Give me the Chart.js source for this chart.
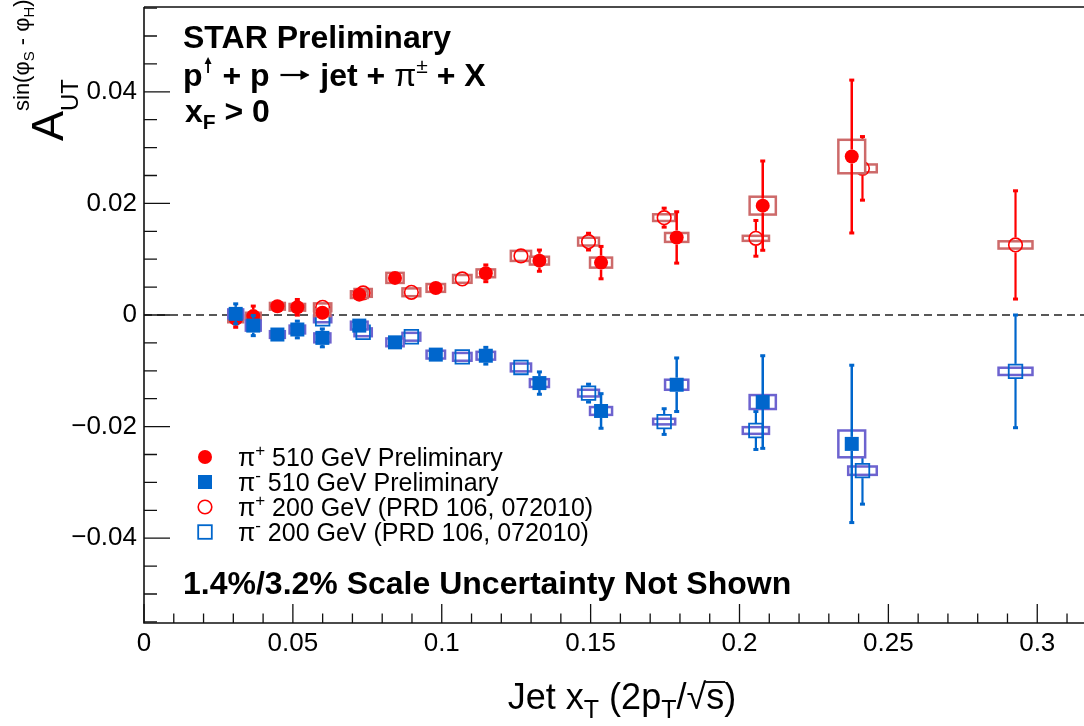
<!DOCTYPE html>
<html><head><meta charset="utf-8">
<script src="https://cdn.jsdelivr.net/npm/chart.js@4"></script>
<style>html,body{margin:0;padding:0;background:#fff;overflow:hidden;} canvas{display:block;}</style>
</head><body><canvas id="c" width="1084" height="726" style="width:1084px;height:726px"></canvas>
<script>
// ---------------- data ----------------
const x510 = [0.0308,0.0367,0.0448,0.0515,0.0599,0.0723,0.0843,0.0980,0.1148,0.1328,0.1535,0.1789,0.2078,0.2377];
const yPiPlus510 = [-0.0007,-0.0002,0.00156,0.00138,0.0004,0.00365,0.00665,0.00485,0.00747,0.00974,0.00939,0.0139,0.0196,0.0284];
const statPiPlus510 = [0.0015,0.0018,0.0010,0.0014,0.0012,0.0010,0.0010,0.0010,0.0015,0.0019,0.0029,0.0046,0.0080,0.0137];
const sysPiPlus510 = [0.0006,0.0006,0.0006,0.0006,0.0006,0.0006,0.0009,0.0007,0.0007,0.0007,0.0009,0.0008,0.0016,0.0030];
const yPiMinus510 = [0.0002,-0.0019,-0.0035,-0.0026,-0.0041,-0.0019,-0.0049,-0.0071,-0.0073,-0.0122,-0.0172,-0.0125,-0.0156,-0.0231];
const statPiMinus510 = [0.0018,0.0018,0.0010,0.0015,0.0016,0.0010,0.0010,0.0010,0.0015,0.0020,0.0031,0.0048,0.0083,0.0141];
const sysPiMinus510 = [0.0008,0.0009,0.0006,0.0007,0.0008,0.0007,0.0007,0.0007,0.0007,0.0007,0.0007,0.0009,0.00125,0.0024];
const sysX510 = [0.0025,0.0025,0.0025,0.0026,0.0027,0.0028,0.0029,0.0031,0.0031,0.0032,0.0037,0.0039,0.0044,0.0045];

const x200 = [0.0600,0.0736,0.0898,0.1069,0.1266,0.1493,0.1747,0.2055,0.2413,0.2927];
const yPiPlus200 = [0.00138,0.00396,0.00407,0.00647,0.01059,0.01315,0.01745,0.01374,0.02628,0.01256];
const statPiPlus200 = [0.0008,0.0008,0.0008,0.0008,0.0009,0.0015,0.0017,0.0032,0.0057,0.0097];
const sysPiPlus200 = [0.0007,0.0007,0.0007,0.0007,0.0009,0.0007,0.0006,0.00045,0.0007,0.00065];
const yPiMinus200 = [-0.0007,-0.0031,-0.0039,-0.0075,-0.0094,-0.0140,-0.0191,-0.0207,-0.0279,-0.0101];
const statPiMinus200 = [0.0008,0.0008,0.0008,0.0008,0.0009,0.0016,0.0023,0.0034,0.0060,0.0101];
const sysPiMinus200 = [0.0006,0.0007,0.0007,0.0007,0.0007,0.0006,0.0005,0.0006,0.00075,0.00065];
const sysX200 = [0.0029,0.0029,0.0030,0.0031,0.0034,0.0035,0.0037,0.0044,0.0048,0.0057];

const xTickValues = [0,0.05,0.1,0.15,0.2,0.25,0.3];
const xTickLabels = ["0","0.05","0.1","0.15","0.2","0.25","0.3"];
const yTickValues = [-0.04,-0.02,0,0.02,0.04];
const yTickLabels = ["\u22120.04","\u22120.02","0","0.02","0.04"];

const legendLabels = [
  {sym:"\u03c0", sup:"+", rest:" 510 GeV Preliminary"},
  {sym:"\u03c0", sup:"-", rest:" 510 GeV Preliminary"},
  {sym:"\u03c0", sup:"+", rest:" 200 GeV (PRD 106, 072010)"},
  {sym:"\u03c0", sup:"-", rest:" 200 GeV (PRD 106, 072010)"}
];

// ---------------- styles ----------------
const FF = '"Liberation Sans", Arial, Helvetica, sans-serif';
const RED = '#ff0000', BLUE = '#0066cc', RBOX = '#cd6a6a', BBOX = '#6d63cf';
const series = [
  {xs:x510, ys:yPiPlus510, stat:statPiPlus510, sysY:sysPiPlus510, sysX:sysX510, marker:'circle', filled:true, color:RED, box:RBOX, boxFill:'#ffffff', lw:2.5, half:7},
  {xs:x510, ys:yPiMinus510, stat:statPiMinus510, sysY:sysPiMinus510, sysX:sysX510, marker:'rect', filled:true, color:BLUE, box:BBOX, boxFill:'#ffffff', lw:2.5, half:7},
  {xs:x200, ys:yPiPlus200, stat:statPiPlus200, sysY:sysPiPlus200, sysX:sysX200, marker:'circle', filled:false, color:RED, box:RBOX, boxFill:null, lw:2.2, half:7.5},
  {xs:x200, ys:yPiMinus200, stat:statPiMinus200, sysY:sysPiMinus200, sysX:sysX200, marker:'rect', filled:false, color:BLUE, box:BBOX, boxFill:null, lw:2.2, half:7.5}
];
const drawOrder = [2,1,4,3];

const datasets = series.map((s,k)=>({
  label: legendLabels[k].rest,
  data: s.xs.map((x,i)=>({x:x, y:s.ys[i]})),
  showLine:false,
  order: drawOrder[k],
  pointStyle: s.marker,
  pointRadius: s.marker==='circle' ? (s.filled?7:6.8) : (s.filled?9.9:9.6),
  pointBackgroundColor: s.filled ? s.color : 'rgba(0,0,0,0)',
  pointBorderColor: s.color,
  pointBorderWidth: s.filled ? 0 : (s.marker==='circle'?1.6:1.8),
  pointHoverRadius: 0
}));

function drawExtras(chart, s){
  const ctx = chart.ctx, xs = chart.scales.x, ys = chart.scales.y;
  ctx.save();
  ctx.lineWidth = 2.5; ctx.strokeStyle = s.box;
  s.xs.forEach((x,i)=>{
    const l = xs.getPixelForValue(x - s.sysX[i]), r = xs.getPixelForValue(x + s.sysX[i]);
    const t = ys.getPixelForValue(s.ys[i] + s.sysY[i]), b = ys.getPixelForValue(s.ys[i] - s.sysY[i]);
    if (s.boxFill){ ctx.fillStyle = s.boxFill; ctx.fillRect(l,t,r-l,b-t); }
    ctx.strokeRect(l,t,r-l,b-t);
  });
  ctx.strokeStyle = s.color; ctx.fillStyle = s.color; ctx.lineWidth = s.lw;
  s.xs.forEach((x,i)=>{
    const px = xs.getPixelForValue(x), py = ys.getPixelForValue(s.ys[i]);
    const top = ys.getPixelForValue(s.ys[i] + s.stat[i]), bot = ys.getPixelForValue(s.ys[i] - s.stat[i]);
    if (py - top > s.half){
      ctx.beginPath(); ctx.moveTo(px, py - s.half); ctx.lineTo(px, top); ctx.stroke();
      ctx.fillRect(px-2.5, top-1.5, 5, 3);
    }
    if (bot - py > s.half){
      ctx.beginPath(); ctx.moveTo(px, py + s.half); ctx.lineTo(px, bot); ctx.stroke();
      ctx.fillRect(px-2.5, bot-1.5, 5, 3);
    }
  });
  ctx.restore();
}

function segWidth(ctx, sg){
  if (sg.arrow) return sg.arrow;
  if (sg.up) return sg.up;
  ctx.font = sg.font; return ctx.measureText(sg.t).width;
}
function richText(ctx, x, y, segs){
  let cx = x;
  segs.forEach(sg=>{
    if (sg.arrow){
      const ay = y + sg.dy;
      ctx.save(); ctx.strokeStyle = '#000'; ctx.lineWidth = 2.2;
      ctx.beginPath(); ctx.moveTo(cx+2, ay); ctx.lineTo(cx+sg.arrow-3, ay); ctx.stroke();
      ctx.beginPath(); ctx.moveTo(cx+sg.arrow-2, ay); ctx.lineTo(cx+sg.arrow-11, ay-5); ctx.lineTo(cx+sg.arrow-11, ay+5); ctx.closePath(); ctx.fillStyle='#000'; ctx.fill();
      ctx.restore();
      cx += sg.arrow; return;
    }
    if (sg.up){
      const mx = cx + sg.up/2;
      ctx.save(); ctx.strokeStyle = '#000'; ctx.lineWidth = 1.8;
      ctx.beginPath(); ctx.moveTo(mx, y + sg.y0); ctx.lineTo(mx, y + sg.y1 + 4); ctx.stroke();
      ctx.beginPath(); ctx.moveTo(mx, y + sg.y1); ctx.lineTo(mx-3.5, y + sg.y1 + 7); ctx.lineTo(mx+3.5, y + sg.y1 + 7); ctx.closePath(); ctx.fillStyle='#000'; ctx.fill();
      ctx.restore();
      cx += sg.up; return;
    }
    ctx.font = sg.font;
    ctx.fillText(sg.t, cx, y + (sg.dy||0));
    const w = ctx.measureText(sg.t).width;
    if (sg.over){ ctx.save(); ctx.lineWidth=1.8; ctx.strokeStyle='#000'; ctx.beginPath(); ctx.moveTo(cx-1, y+sg.over); ctx.lineTo(cx+w+1, y+sg.over); ctx.stroke(); ctx.restore(); }
    cx += w;
  });
  return cx;
}

function drawMarker(ctx, s, x, y){
  ctx.save();
  if (s.marker==='circle'){
    ctx.beginPath(); ctx.arc(x,y,s.filled?7:6.8,0,Math.PI*2);
    if (s.filled){ ctx.fillStyle=s.color; ctx.fill(); } else { ctx.strokeStyle=s.color; ctx.lineWidth=1.6; ctx.stroke(); }
  } else {
    if (s.filled){ ctx.fillStyle=s.color; ctx.fillRect(x-7,y-7,14,14); }
    else { ctx.strokeStyle=s.color; ctx.lineWidth=1.8; ctx.strokeRect(x-6.8,y-6.8,13.6,13.6); }
  }
  ctx.restore();
}

const rootPlugin = {
  id:'rootStyle',
  beforeDatasetsDraw(chart){
    const ctx = chart.ctx, a = chart.chartArea, ys = chart.scales.y;
    const y0 = ys.getPixelForValue(0);
    ctx.save(); ctx.strokeStyle='#222'; ctx.lineWidth=1.6; ctx.setLineDash([8,5]);
    ctx.beginPath(); ctx.moveTo(a.left, y0); ctx.lineTo(a.right, y0); ctx.stroke(); ctx.restore();
  },
  beforeDatasetDraw(chart, args){
    drawExtras(chart, series[args.index]);
  },
  afterDatasetsDraw(chart){
    const ctx = chart.ctx, a = chart.chartArea, xs = chart.scales.x, ys = chart.scales.y;
    ctx.save(); ctx.strokeStyle='#111'; ctx.lineWidth=1.6;
    ctx.beginPath();
    ctx.moveTo(a.left, a.top); ctx.lineTo(a.left, a.bottom); ctx.lineTo(a.right, a.bottom);
    ctx.moveTo(a.left, a.top); ctx.lineTo(a.right, a.top);
    ctx.stroke();
    ctx.lineWidth=1.3;
    ctx.beginPath();
    for (let k=0; k<=32; k++){
      const v = k*0.01; const px = xs.getPixelForValue(v);
      if (px > a.right) break;
      const len = (k%5===0) ? 19 : 9.5;
      ctx.moveTo(px, a.bottom); ctx.lineTo(px, a.bottom - len);
    }
    for (let k=-11; k<=11; k++){
      const v = k*0.005; const py = ys.getPixelForValue(v);
      if (py < a.top || py > a.bottom) continue;
      const len = (k%4===0) ? 26 : 13;
      ctx.moveTo(a.left, py); ctx.lineTo(a.left + len, py);
    }
    ctx.stroke();
    ctx.restore();
  },
  afterDraw(chart){
    const ctx = chart.ctx;
    ctx.save();
    ctx.fillStyle = '#000'; ctx.textBaseline = 'alphabetic'; ctx.textAlign='left';
    const B = 'bold 32px '+FF, Bs = 'bold 21px '+FF, R32 = '32px '+FF;
    richText(ctx, 183, 48, [{t:'STAR Preliminary', font:B}]);
    richText(ctx, 183, 86, [
      {t:'p', font:B}, {up:11, y0:-13, y1:-29}, {t:' + p ', font:B},
      {arrow:33, dy:-11}, {t:' jet + ', font:B}, {t:'\u03c0', font:R32},
      {t:'\u00b1', font:'21px '+FF, dy:-13}, {t:' + X', font:B}
    ]);
    richText(ctx, 185, 122, [{t:'x', font:B}, {t:'F', font:Bs, dy:7}, {t:' > 0', font:B}]);
    // legend
    const rows = [457, 482, 507, 532];
    series.forEach((s,k)=>{
      drawMarker(ctx, s, 205, rows[k]);
      ctx.fillStyle='#000';
      richText(ctx, 238, rows[k]+9, [
        {t:legendLabels[k].sym, font:'25px '+FF}, {t:legendLabels[k].sup, font:'17px '+FF, dy:-10}, {t:legendLabels[k].rest, font:'25px '+FF}
      ]);
    });
    ctx.fillStyle='#000';
    richText(ctx, 183, 594, [{t:'1.4%/3.2% Scale Uncertainty Not Shown', font:B}]);
    // x title
    const R36 = '36px '+FF, S25 = '25px '+FF;
    const xt = [
      {t:'Jet x', font:R36}, {t:'T', font:S25, dy:9}, {t:' (2p', font:R36},
      {t:'T', font:S25, dy:9}, {t:'/\u221a', font:R36}, {t:'s', font:R36, over:-27}, {t:')', font:R36}
    ];
    const tw = xt.reduce((acc,sg)=>acc+segWidth(ctx,sg),0);
    richText(ctx, 622 - tw/2, 709, xt);
    // y title (rotated)
    ctx.save();
    ctx.translate(63, 141); ctx.rotate(-Math.PI/2);
    richText(ctx, 0, 0, [{t:'A', font:'45px '+FF}]);
    richText(ctx, 30, 15, [{t:'UT', font:'24px '+FF}]);
    richText(ctx, 30, -34, [
      {t:'sin(\u03c6', font:'22px '+FF}, {t:'S', font:'15px '+FF, dy:5},
      {t:' - \u03c6', font:'22px '+FF}, {t:'H', font:'15px '+FF, dy:5}, {t:')', font:'22px '+FF}
    ]);
    ctx.restore();
    ctx.restore();
  }
};

new Chart(document.getElementById('c'), {
  type:'scatter',
  data:{datasets:datasets},
  options:{
    responsive:false, maintainAspectRatio:false, animation:false, devicePixelRatio:1,
    layout:{autoPadding:false, padding:{left:0, top:7, right:0, bottom:0}},
    plugins:{legend:{display:false}, tooltip:{enabled:false}},
    events:[],
    scales:{
      x:{type:'linear', min:0, max:0.3157,
        afterBuildTicks:(sc)=>{ sc.ticks = xTickValues.map(v=>({value:v})); },
        ticks:{callback:(v,i)=>xTickLabels[i], font:{family:FF, size:26}, color:'#000', padding:5, maxRotation:0, autoSkip:false},
        grid:{display:false, drawTicks:false}, border:{display:false},
        afterFit:(sc)=>{ sc.height = 103; sc.paddingLeft=0; sc.paddingRight=0; sc.paddingTop=0; sc.paddingBottom=0; }
      },
      y:{type:'linear', min:-0.0552, max:0.0552,
        afterBuildTicks:(sc)=>{ sc.ticks = yTickValues.map(v=>({value:v})); },
        ticks:{callback:(v,i)=>yTickLabels[i], font:{family:FF, size:26}, color:'#000', padding:7, autoSkip:false},
        grid:{display:false, drawTicks:false}, border:{display:false},
        afterFit:(sc)=>{ sc.width = 144; sc.paddingLeft=0; sc.paddingRight=0; sc.paddingTop=0; sc.paddingBottom=0; }
      }
    }
  },
  plugins:[rootPlugin]
});
</script></body></html>
